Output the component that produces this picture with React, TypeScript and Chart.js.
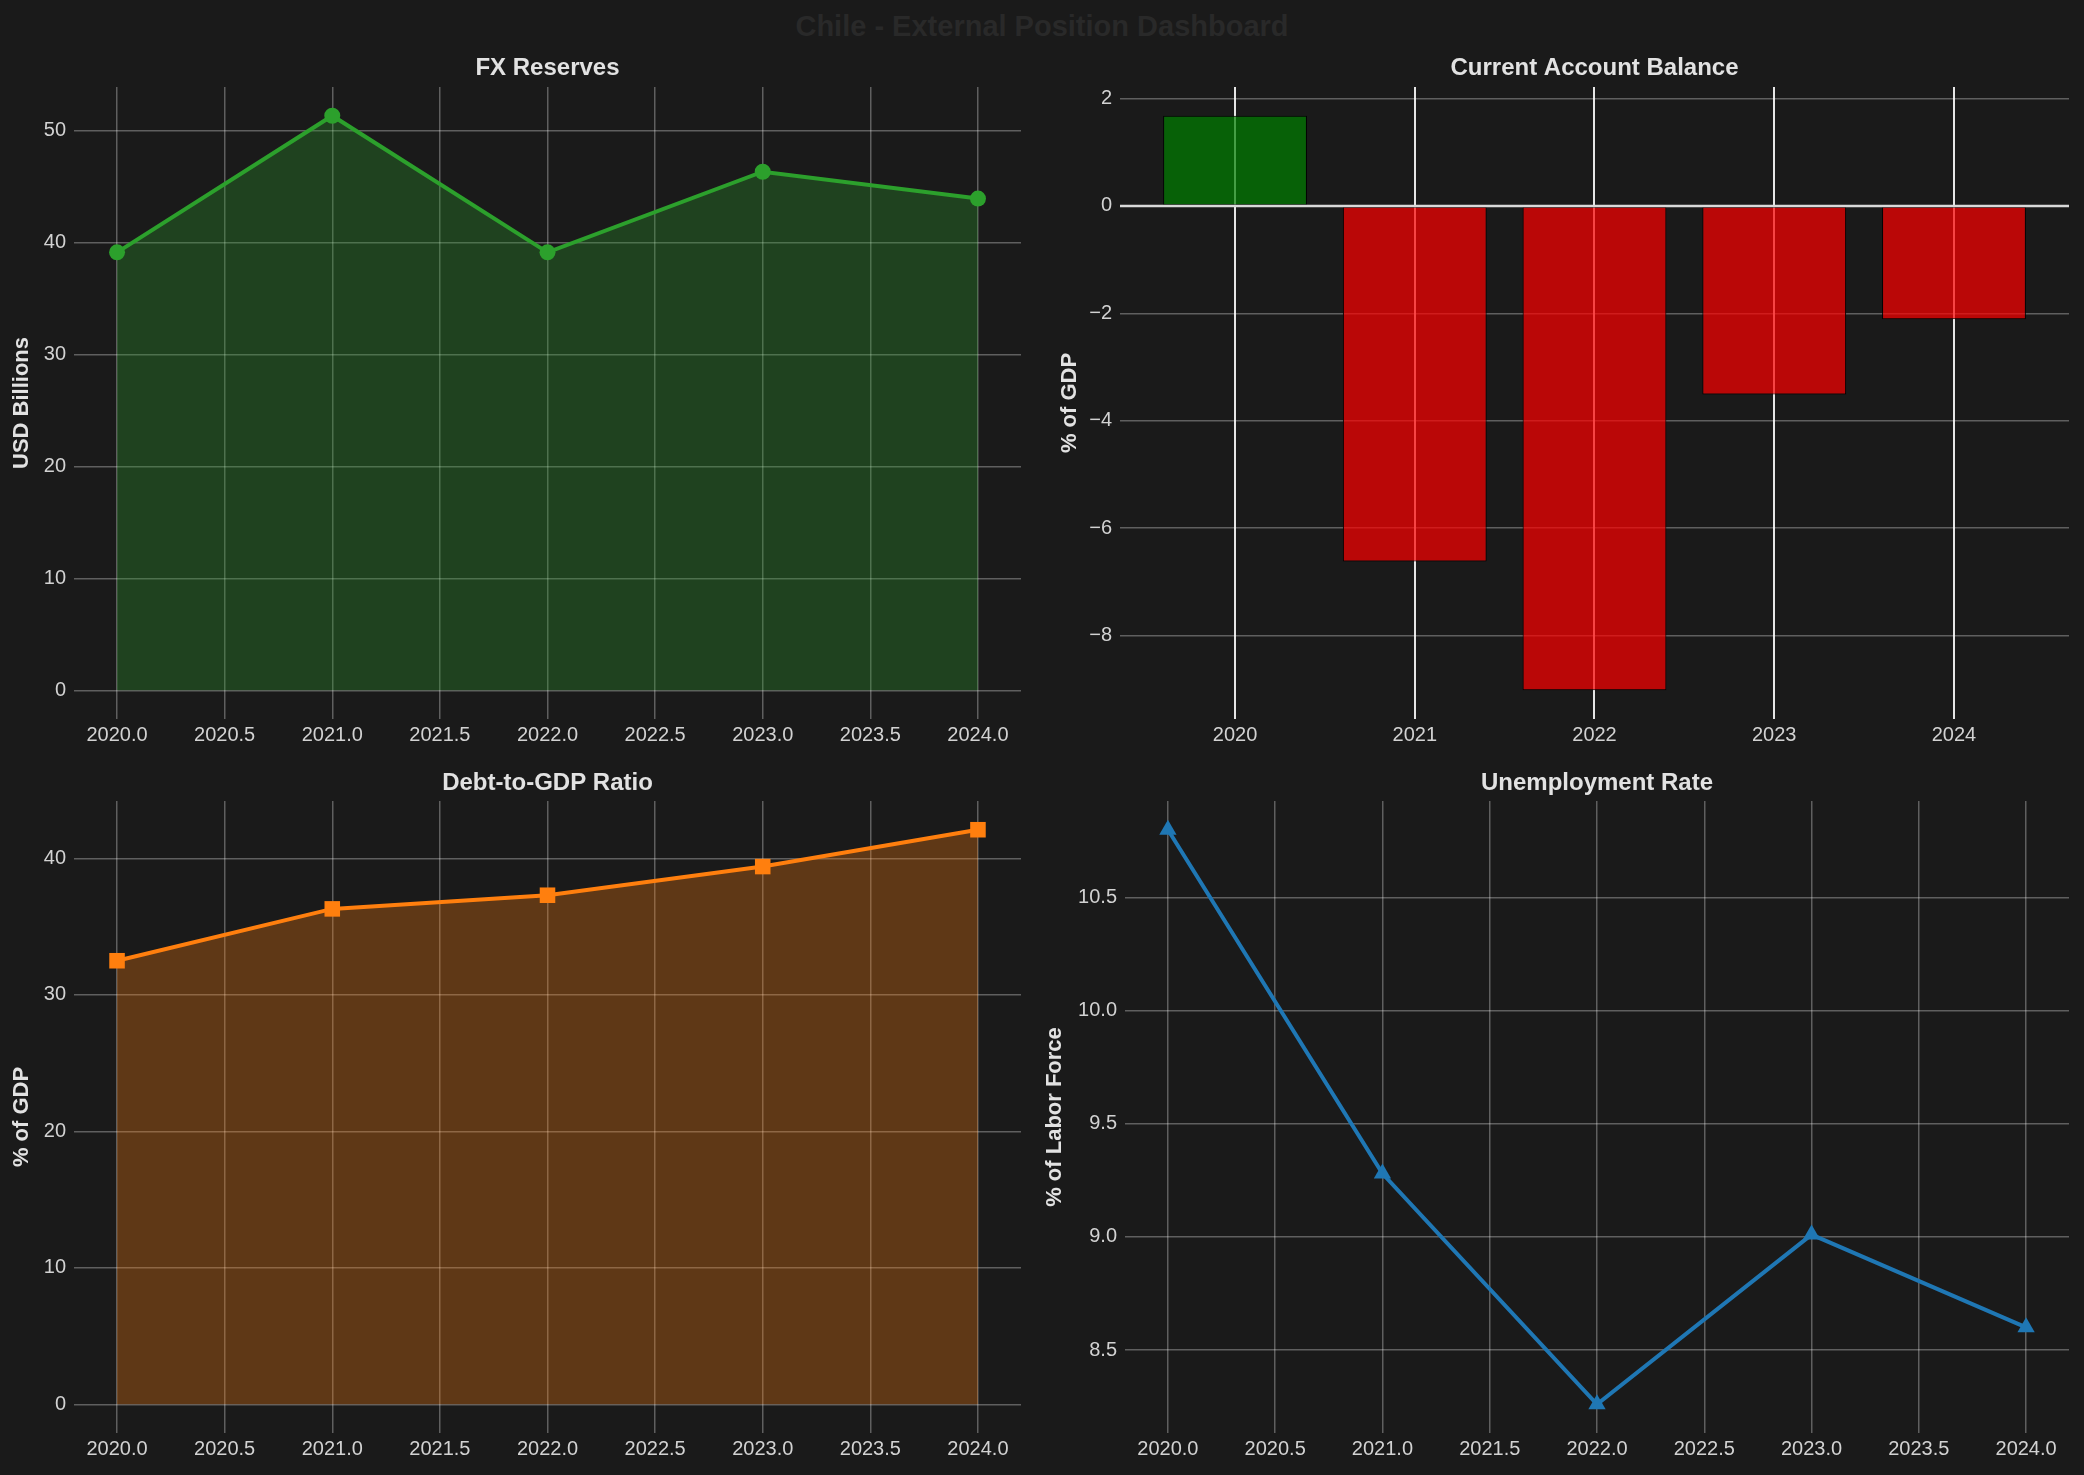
import { useEffect, useRef } from 'react';
import { Chart, ChartConfiguration, registerables } from 'chart.js';

Chart.register(...registerables);

// Data
const years = [2020, 2021, 2022, 2023, 2024];
const fxReserves = [39.1, 51.3, 39.1, 46.3, 43.9];
const currentAccount = [1.68, -6.62, -9.02, -3.51, -2.11];
const debtToGdp = [32.5, 36.3, 37.3, 39.4, 42.1];
const unemployment = [10.8, 9.28, 8.26, 9.01, 8.6];

// Tick values
const yearTicks = [2020, 2020.5, 2021, 2021.5, 2022, 2022.5, 2023, 2023.5, 2024];
const fxTicks = [0, 10, 20, 30, 40, 50];
const caTicks = [-8, -6, -4, -2, 0, 2];
const debtTicks = [0, 10, 20, 30, 40];
const unempTicks = [8.5, 9.0, 9.5, 10.0, 10.5];

const FONT = '"Liberation Sans", Arial, Helvetica, sans-serif';
const BG = '#1a1a1a';
const TICK_COLOR = '#d2d2d2';
const TEXT_COLOR = '#e2e2e2';
const GRID = 'rgba(255,255,255,0.3)';

Chart.defaults.font.family = FONT;

// matplotlib-like 5% margins
const pad = (lo: number, hi: number) => {
  const m = (hi - lo) * 0.05;
  return [lo - m, hi + m];
};

const fmtMinus = (v: number, digits: number) => {
  const s = Math.abs(v).toFixed(digits);
  return v < 0 ? '\u2212' + s : s;
};

interface Geo {
  left: number;
  top: number;
  width: number;
  height: number;
  plot: [number, number, number, number]; // left, top, right, bottom (page px)
  yTitlePad: number;
}

const geoTL: Geo = { left: 0, top: 52, width: 1042, height: 707, plot: [74, 87, 1021, 719], yTitlePad: 9 };
const geoTR: Geo = { left: 1042, top: 52, width: 1042, height: 707, plot: [1120, 87, 2069, 719], yTitlePad: 15 };
const geoBL: Geo = { left: 0, top: 767, width: 1042, height: 706, plot: [74, 801, 1021, 1433], yTitlePad: 9 };
const geoBR: Geo = { left: 1042, top: 767, width: 1042, height: 706, plot: [1125, 801, 2069, 1433], yTitlePad: 0 };

interface AxisSpec {
  title: string;
  yTitle: string;
  xTicks: number[];
  xLabel: (v: number) => string;
  xRange: number[];
  yTicks: number[];
  yLabel: (v: number) => string;
  yRange: number[];
  xGridColor: string;
  xGridWidth: number;
}

function buildOptions(geo: Geo, spec: AxisSpec): any {
  const [pl, pt, pr, pb] = geo.plot;
  return {
    responsive: false,
    animation: false,
    layout: { padding: { left: 0, top: 0, right: geo.left + geo.width - pr, bottom: 0 } },
    plugins: {
      legend: { display: false },
      tooltip: { enabled: false },
      title: {
        display: true,
        text: spec.title,
        color: TEXT_COLOR,
        fullSize: false,
        font: { size: 24, weight: 'bold', family: FONT },
        padding: { top: 2, bottom: pt - geo.top - 30.8 },
      },
    },
    scales: {
      x: {
        type: 'linear',
        min: spec.xRange[0],
        max: spec.xRange[1],
        offset: false,
        afterFit: (s: any) => { s.height = geo.top + geo.height - pb; },
        afterBuildTicks: (s: any) => { s.ticks = spec.xTicks.map((v) => ({ value: v })); },
        ticks: {
          color: TICK_COLOR,
          font: { size: 20, family: FONT },
          padding: 4,
          autoSkip: false,
          maxRotation: 0,
          callback: (v: any) => spec.xLabel(Number(v)),
        },
        grid: { color: spec.xGridColor, lineWidth: spec.xGridWidth, drawTicks: false, offset: false },
        border: { display: false },
      },
      y: {
        type: 'linear',
        min: spec.yRange[0],
        max: spec.yRange[1],
        afterFit: (s: any) => { s.width = pl - geo.left; },
        afterBuildTicks: (s: any) => { s.ticks = spec.yTicks.map((v) => ({ value: v })); },
        ticks: {
          color: TICK_COLOR,
          font: { size: 20, family: FONT },
          padding: 8,
          callback: (v: any) => spec.yLabel(Number(v)),
        },
        grid: { color: GRID, lineWidth: 1.5, drawTicks: false },
        border: { display: false },
        title: {
          display: true,
          text: spec.yTitle,
          color: TEXT_COLOR,
          font: { size: 22, weight: 'bold', family: FONT },
          padding: { top: geo.yTitlePad, bottom: 0 },
        },
      },
    },
  };
}

function lineConfig(
  geo: Geo,
  title: string,
  yTitle: string,
  values: number[],
  color: string,
  fillColor: string | null,
  pointStyle: string,
  pointRadius: number,
  yTicks: number[],
  yDigits: number,
): ChartConfiguration {
  const lo = fillColor ? Math.min(0, ...values) : Math.min(...values);
  const hi = Math.max(...values);
  return {
    type: 'line',
    data: {
      datasets: [{
        data: years.map((x, i) => ({ x, y: values[i] })),
        borderColor: color,
        borderWidth: 4,
        backgroundColor: fillColor || color,
        fill: fillColor ? 'origin' : false,
        pointStyle: pointStyle as any,
        pointRadius,
        pointBackgroundColor: color,
        pointBorderColor: color,
        pointBorderWidth: 0,
        tension: 0,
      }],
    },
    options: buildOptions(geo, {
      title,
      yTitle,
      xTicks: yearTicks,
      xLabel: (v) => v.toFixed(1),
      xRange: pad(years[0], years[years.length - 1]),
      yTicks,
      yLabel: (v) => fmtMinus(v, yDigits),
      yRange: pad(lo, hi),
      xGridColor: GRID,
      xGridWidth: 1.5,
    }),
  } as ChartConfiguration;
}

const zeroLine = {
  id: 'zeroLine',
  afterDatasetsDraw(chart: any) {
    const { ctx, chartArea, scales } = chart;
    const y = scales.y.getPixelForValue(0);
    ctx.save();
    ctx.strokeStyle = '#d9d9d9';
    ctx.lineWidth = 2.5;
    ctx.beginPath();
    ctx.moveTo(chartArea.left, y);
    ctx.lineTo(chartArea.right, y);
    ctx.stroke();
    ctx.restore();
  },
};

function barConfig(geo: Geo): ChartConfiguration {
  const idx = years.map((_, i) => i);
  return {
    type: 'bar',
    data: {
      datasets: [{
        data: idx.map((i) => ({ x: i, y: currentAccount[i] })),
        backgroundColor: currentAccount.map((v) => (v >= 0 ? 'rgba(0,128,0,0.7)' : 'rgba(255,0,0,0.7)')),
        borderColor: '#000000',
        borderWidth: 1,
        borderSkipped: false,
        barPercentage: 0.8,
        categoryPercentage: 1,
      }],
    },
    options: buildOptions(geo, {
      title: 'Current Account Balance',
      yTitle: '% of GDP',
      xTicks: idx,
      xLabel: (v) => String(years[Math.round(v)] ?? ''),
      xRange: pad(-0.4, idx.length - 1 + 0.4),
      yTicks: caTicks,
      yLabel: (v) => fmtMinus(v, 0),
      yRange: pad(Math.min(0, ...currentAccount), Math.max(0, ...currentAccount)),
      xGridColor: 'rgba(240,240,240,0.95)',
      xGridWidth: 2,
    }),
    plugins: [zeroLine],
  } as ChartConfiguration;
}

function Panel({ geo, make }: { geo: Geo; make: (g: Geo) => ChartConfiguration }) {
  const ref = useRef<HTMLCanvasElement>(null);

  useEffect(() => {
    if (!ref.current) return;
    const chart = new Chart(ref.current, make(geo));
    return () => {
      chart.destroy();
    };
  }, []);

  return (
    <canvas
      ref={ref}
      width={geo.width}
      height={geo.height}
      style={{ position: 'absolute', left: geo.left, top: geo.top, width: geo.width, height: geo.height }}
    />
  );
}

export default function App() {
  useEffect(() => {
    document.body.style.margin = '0';
    document.body.style.background = BG;
    document.body.style.overflow = 'hidden';
  }, []);

  return (
    <div style={{ position: 'absolute', left: 0, top: 0, width: 2084, height: 1475, background: BG, overflow: 'hidden' }}>
      <div
        style={{
          position: 'absolute',
          left: 0,
          top: 8,
          width: 2084,
          textAlign: 'center',
          fontFamily: FONT,
          fontWeight: 'bold',
          fontSize: 29,
          lineHeight: '36px',
          color: '#292929',
        }}
      >
        Chile - External Position Dashboard
      </div>
      <Panel
        geo={geoTL}
        make={(g) => lineConfig(g, 'FX Reserves', 'USD Billions', fxReserves, '#2ca02c', 'rgba(44,160,44,0.3)', 'circle', 8, fxTicks, 0)}
      />
      <Panel geo={geoTR} make={barConfig} />
      <Panel
        geo={geoBL}
        make={(g) => lineConfig(g, 'Debt-to-GDP Ratio', '% of GDP', debtToGdp, '#ff7f0e', 'rgba(255,127,14,0.3)', 'rect', 11, debtTicks, 0)}
      />
      <Panel
        geo={geoBR}
        make={(g) => lineConfig(g, 'Unemployment Rate', '% of Labor Force', unemployment, '#1f77b4', null, 'triangle', 10, unempTicks, 1)}
      />
    </div>
  );
}
